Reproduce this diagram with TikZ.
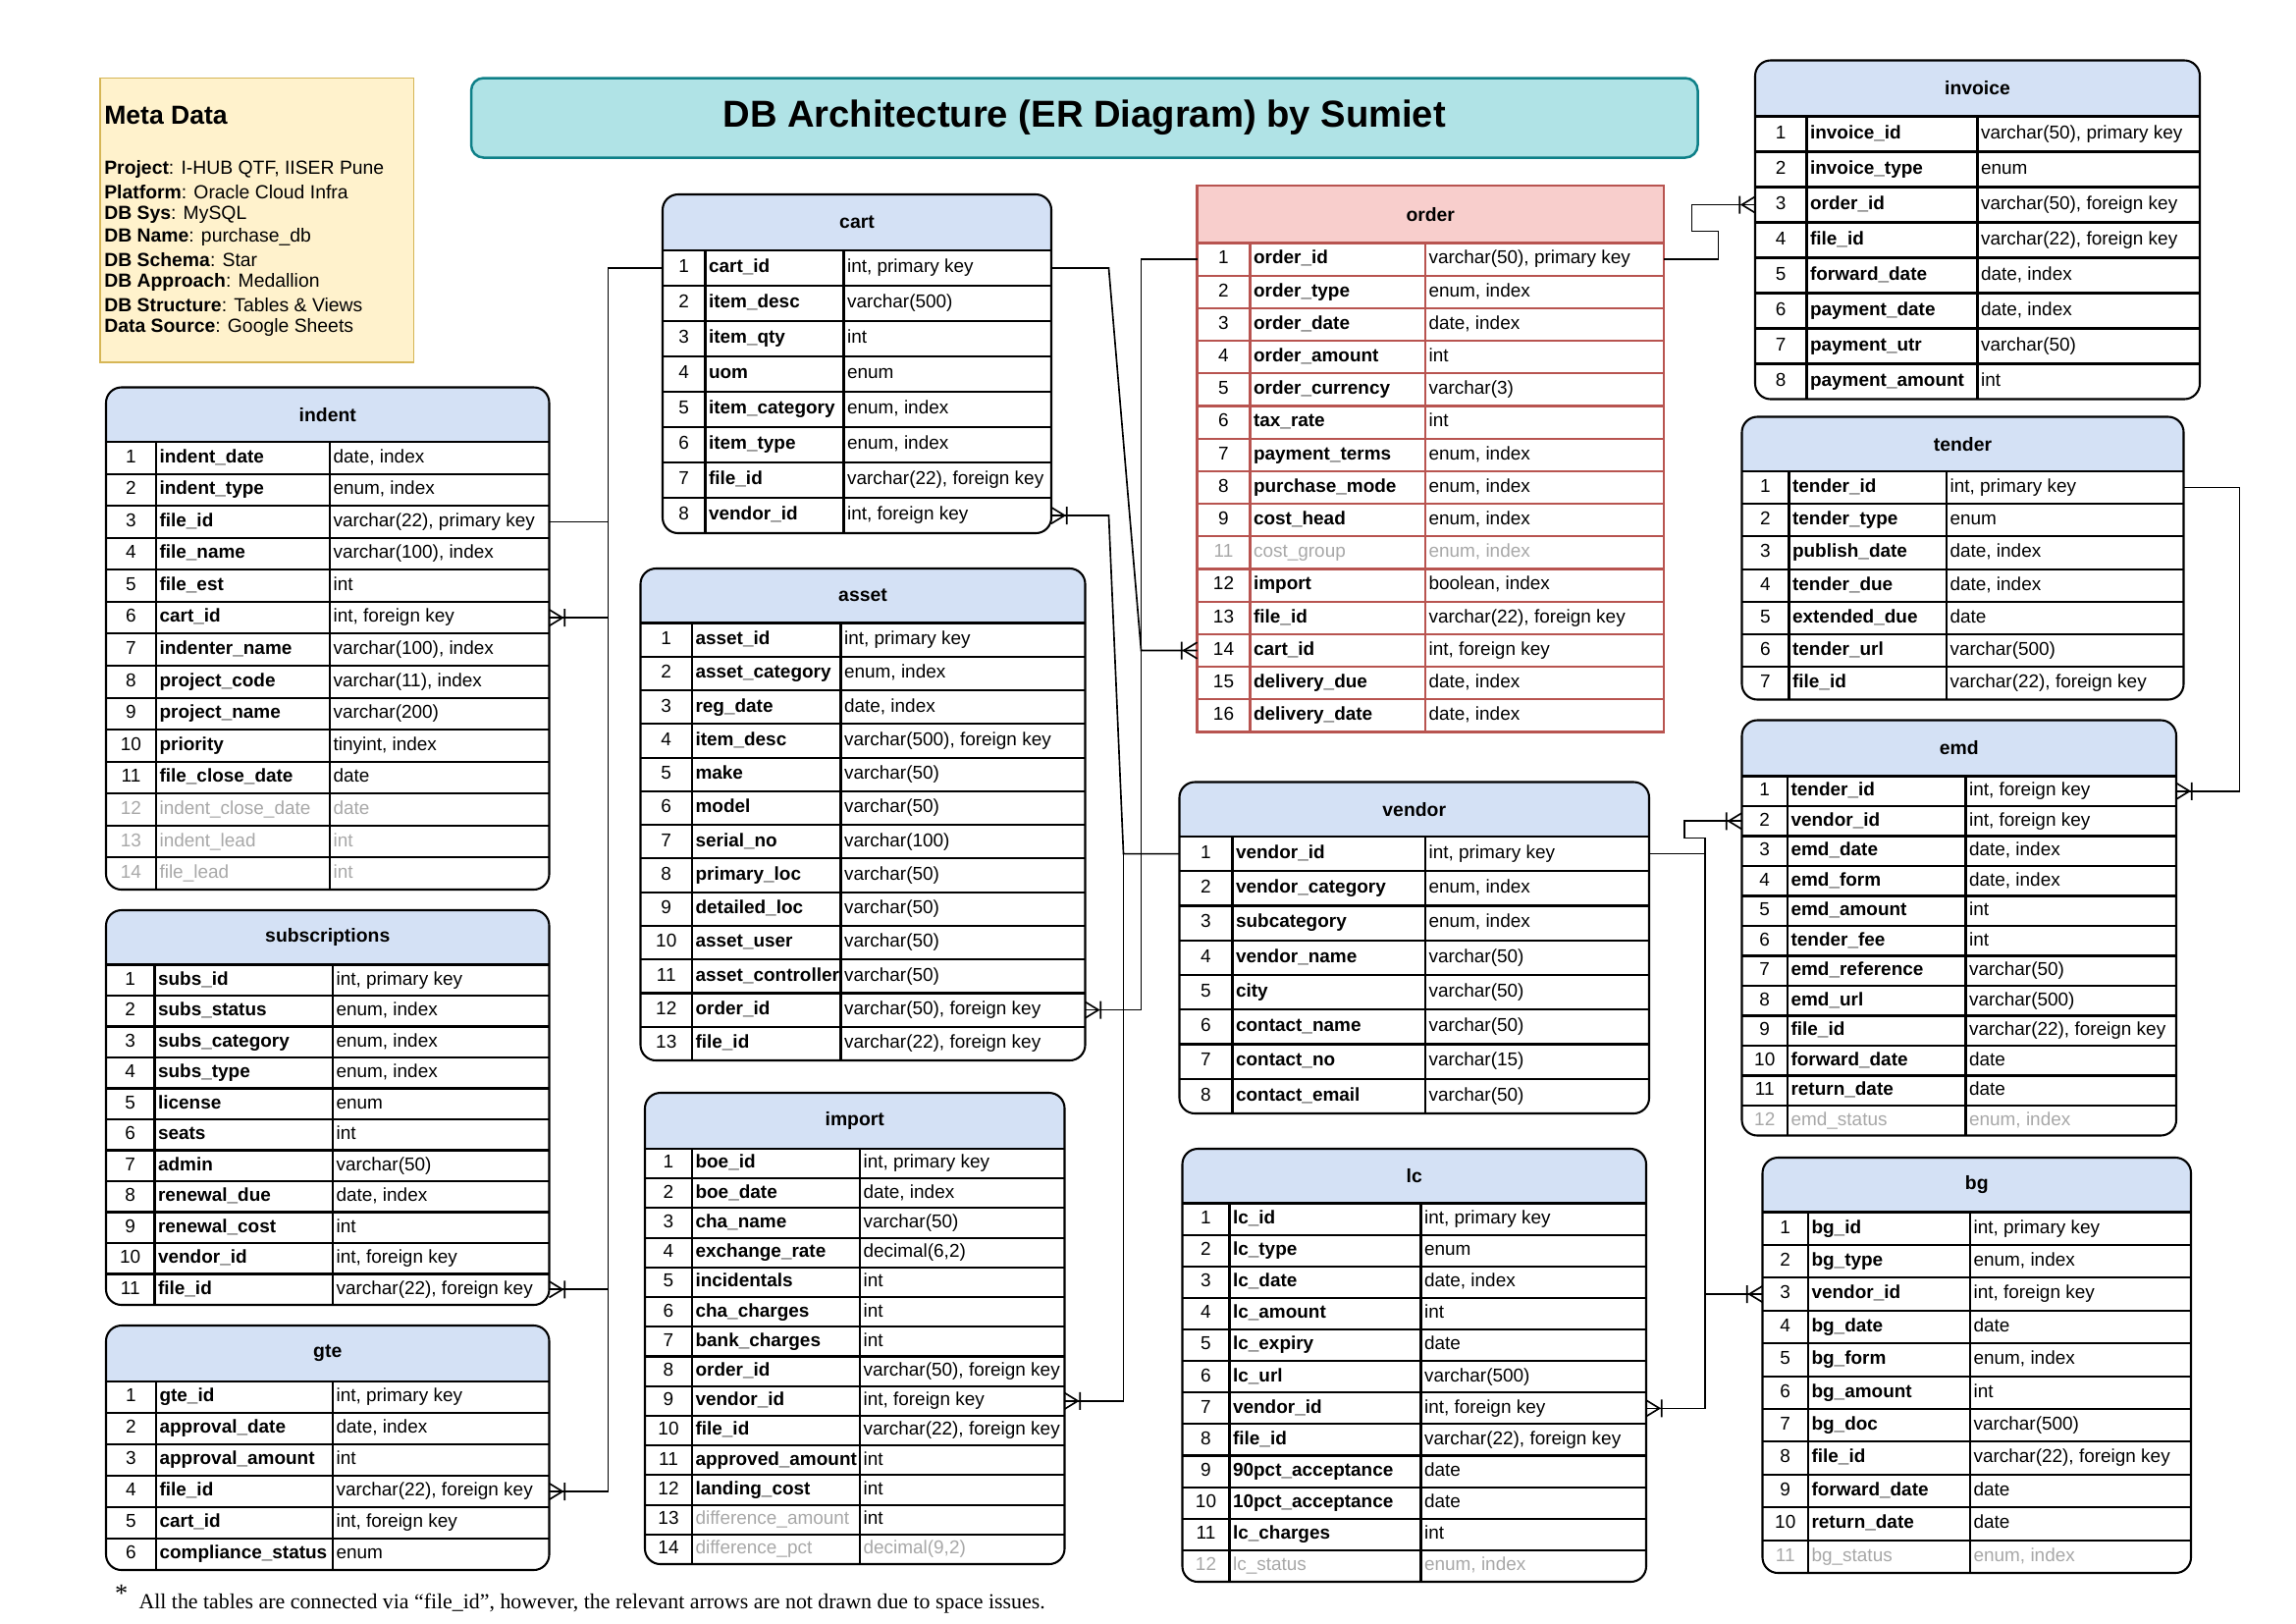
\documentclass[tikz,border=0pt]{standalone}
\usepackage{fontspec}
\setmainfont{Liberation Sans}
\newfontfamily\footserif{Liberation Serif}
\usetikzlibrary{calc}
\definecolor{hdrblue}{HTML}{D4E1F5}
\definecolor{hdrred}{HTML}{F8CECC}
\definecolor{redline}{HTML}{B85450}
\definecolor{txtgrey}{HTML}{A8A8A8}
\definecolor{titlefill}{HTML}{B0E3E6}
\definecolor{titleline}{HTML}{0E8088}
\definecolor{metafill}{HTML}{FFF2CC}
\definecolor{metaline}{HTML}{D6B656}
\newcommand{\fs}{\fontsize{6.85}{8.2}\selectfont}
\tikzset{
  tabline/.style={line width=0.75pt, draw=black},
  tablinered/.style={line width=0.75pt, draw=redline},
  conn/.style={line width=0.6pt, draw=black},
  rowbox/.style={draw=none, inner sep=0pt, outer sep=0pt},
  celltxt/.style={inner sep=0pt, text height=5pt, text depth=1.5pt, font=\fs},
  numtxt/.style={celltxt},
  nametxt/.style={celltxt, font=\fs\bfseries},
  typetxt/.style={celltxt},
  greytxt/.style={celltxt, text=txtgrey},
  titletxt/.style={inner sep=0pt, font=\fontsize{7}{8.4}\selectfont\bfseries},
  metatext/.style={anchor=west, inner sep=0pt, font=\fontsize{7}{8.4}\selectfont},
}
% table geometry: id, xl, xa, xb, xr, ytop, yhead, ybottom, nrows
\newcommand{\ertab}[9]{%
  \def\Tid{#1}\def\Txl{#2}\def\Txa{#3}\def\Txb{#4}\def\Txr{#5}%
  \def\Tyt{#6}\def\Tyh{#7}\def\Tyb{#8}\def\Tn{#9}%
  \pgfmathsetmacro\Trh{(#8-#7)/#9}%
}
\newcommand{\tabround}[1]{%
  \begin{scope}
    \clip[rounded corners=2mm] (\Txl,\Tyt) rectangle (\Txr,\Tyb);
    \fill[hdrblue] (\Txl,\Tyt) rectangle (\Txr,\Tyh);
    \fill[white] (\Txl,\Tyh) rectangle (\Txr,\Tyb);
  \end{scope}
  \draw[tabline] (\Txl,\Tyh) -- (\Txr,\Tyh) (\Txa,\Tyh) -- (\Txa,\Tyb) (\Txb,\Tyh) -- (\Txb,\Tyb);
  \draw[tabline, rounded corners=2mm] (\Txl,\Tyt) rectangle (\Txr,\Tyb);
  \node[titletxt] (\Tid-title) at ({(\Txl+\Txr)/2},{(\Tyt+\Tyh)/2}) {#1};
  \def\Tline{tabline}%
}
\newcommand{\tabsquare}[1]{%
  \fill[hdrred] (\Txl,\Tyt) rectangle (\Txr,\Tyh);
  \fill[white] (\Txl,\Tyh) rectangle (\Txr,\Tyb);
  \draw[tablinered] (\Txl,\Tyh) -- (\Txr,\Tyh) (\Txa,\Tyh) -- (\Txa,\Tyb) (\Txb,\Tyh) -- (\Txb,\Tyb);
  \draw[tablinered] (\Txl,\Tyt) rectangle (\Txr,\Tyb);
  \node[titletxt] (\Tid-title) at ({(\Txl+\Txr)/2},{(\Tyt+\Tyh)/2}) {#1};
  \def\Tline{tablinered}%
}
% row: k, label, name, type, numstyle, namestyle, typestyle
\newcommand{\erow}[7]{%
  \pgfmathsetmacro\yc{\Tyh+(#1-0.5)*\Trh}%
  \pgfmathsetmacro\yl{\Tyh+#1*\Trh}%
  \node[rowbox, minimum width={(\Txr-\Txl)*0.19047mm}, minimum height={\Trh*0.19047mm}] (\Tid-#2) at ({(\Txl+\Txr)/2},\yc) {};%
  \node[#5] (\Tid-#2-n) at ({(\Txl+\Txa)/2},\yc) {#2};%
  \node[#6, anchor=west] (\Tid-#2-a) at ({\Txa+2},\yc) {#3};%
  \node[#7, anchor=west] (\Tid-#2-b) at ({\Txb+2},\yc) {#4};%
  \ifnum#1<\Tn\relax \draw[\Tline] (\Txl,\yl) -- (\Txr,\yl);\fi
}
\newcommand{\rowN}[3]{\erow{#1}{#1}{#2}{#3}{numtxt}{nametxt}{typetxt}}
\newcommand{\rowG}[3]{\erow{#1}{#1}{#2}{#3}{greytxt}{greytxt}{greytxt}}
\newcommand{\crow}[2]{%
  \draw[conn] ($(#1)+(0,-5.5)$) -- ($(#1)+(#2*9,0)$) -- ($(#1)+(0,5.5)$)
              ($(#1)+(#2*10.5,-6)$) -- ($(#1)+(#2*10.5,6)$);}
\begin{document}
\begin{tikzpicture}[x=0.19047mm, y=-0.19047mm]
\useasboundingbox (0,0) rectangle (1559.33,1102.1);
\fill[white] (0,0) rectangle (1559.33,1102.1);

% ---------- meta data ----------
\node[draw=metaline, fill=metafill, line width=0.6pt, inner sep=0pt,
      minimum width={213*0.19047mm}, minimum height={193*0.19047mm}] (meta) at (174.5,149.5) {};
\node[anchor=west, inner sep=0pt, font=\fontsize{9.6}{11}\selectfont\bfseries] (metatitle) at (70.5,78) {Meta Data};
\node[metatext] (meta1) at (70.5,115.0) {\textbf{Project}: I-HUB QTF, IISER Pune};
\node[metatext] (meta2) at (70.5,130.3) {\textbf{Platform}: Oracle Cloud Infra};
\node[metatext] (meta3) at (70.5,145.6) {\textbf{DB Sys}: MySQL};
\node[metatext] (meta4) at (70.5,160.9) {\textbf{DB Name}: purchase\_db};
\node[metatext] (meta5) at (70.5,176.2) {\textbf{DB Schema}: Star};
\node[metatext] (meta6) at (70.5,191.5) {\textbf{DB Approach}: Medallion};
\node[metatext] (meta7) at (70.5,206.8) {\textbf{DB Structure}: Tables \& Views};
\node[metatext] (meta8) at (70.5,222.1) {\textbf{Data Source}: Google Sheets};

% ---------- title ----------
\node[draw=titleline, fill=titlefill, line width=0.9pt, rounded corners=1.6mm, inner sep=0pt,
      minimum width={833*0.19047mm}, minimum height={54*0.19047mm},
      font=\fontsize{13.8}{16}\selectfont\bfseries] (title) at (736.5,80) {DB Architecture (ER Diagram) by Sumiet};

% ---------- indent ----------
\ertab{indent}{72}{106}{224}{373}{263}{300}{604}{14}
\tabround{indent}
\rowN{1}{indent\_date}{date, index}
\rowN{2}{indent\_type}{enum, index}
\rowN{3}{file\_id}{varchar(22), primary key}
\rowN{4}{file\_name}{varchar(100), index}
\rowN{5}{file\_est}{int}
\rowN{6}{cart\_id}{int, foreign key}
\rowN{7}{indenter\_name}{varchar(100), index}
\rowN{8}{project\_code}{varchar(11), index}
\rowN{9}{project\_name}{varchar(200)}
\rowN{10}{priority}{tinyint, index}
\rowN{11}{file\_close\_date}{date}
\rowG{12}{indent\_close\_date}{date}
\rowG{13}{indent\_lead}{int}
\rowG{14}{file\_lead}{int}

% ---------- subscriptions ----------
\ertab{subs}{72}{105}{226}{373}{618}{655}{886}{11}
\tabround{subscriptions}
\rowN{1}{subs\_id}{int, primary key}
\rowN{2}{subs\_status}{enum, index}
\rowN{3}{subs\_category}{enum, index}
\rowN{4}{subs\_type}{enum, index}
\rowN{5}{license}{enum}
\rowN{6}{seats}{int}
\rowN{7}{admin}{varchar(50)}
\rowN{8}{renewal\_due}{date, index}
\rowN{9}{renewal\_cost}{int}
\rowN{10}{vendor\_id}{int, foreign key}
\rowN{11}{file\_id}{varchar(22), foreign key}

% ---------- gte ----------
\ertab{gte}{72}{106}{226}{373}{900}{938}{1066}{6}
\tabround{gte}
\rowN{1}{gte\_id}{int, primary key}
\rowN{2}{approval\_date}{date, index}
\rowN{3}{approval\_amount}{int}
\rowN{4}{file\_id}{varchar(22), foreign key}
\rowN{5}{cart\_id}{int, foreign key}
\rowN{6}{compliance\_status}{enum}

% ---------- cart ----------
\ertab{cart}{450}{479}{573}{714}{132}{170}{362}{8}
\tabround{cart}
\rowN{1}{cart\_id}{int, primary key}
\rowN{2}{item\_desc}{varchar(500)}
\rowN{3}{item\_qty}{int}
\rowN{4}{uom}{enum}
\rowN{5}{item\_category}{enum, index}
\rowN{6}{item\_type}{enum, index}
\rowN{7}{file\_id}{varchar(22), foreign key}
\rowN{8}{vendor\_id}{int, foreign key}

% ---------- asset ----------
\ertab{asset}{435}{470}{571}{737}{386}{423}{720}{13}
\tabround{asset}
\rowN{1}{asset\_id}{int, primary key}
\rowN{2}{asset\_category}{enum, index}
\rowN{3}{reg\_date}{date, index}
\rowN{4}{item\_desc}{varchar(500), foreign key}
\rowN{5}{make}{varchar(50)}
\rowN{6}{model}{varchar(50)}
\rowN{7}{serial\_no}{varchar(100)}
\rowN{8}{primary\_loc}{varchar(50)}
\rowN{9}{detailed\_loc}{varchar(50)}
\rowN{10}{asset\_user}{varchar(50)}
\rowN{11}{asset\_controller}{varchar(50)}
\rowN{12}{order\_id}{varchar(50), foreign key}
\rowN{13}{file\_id}{varchar(22), foreign key}

% ---------- import ----------
\ertab{import}{438}{470}{584}{723}{742}{780}{1062}{14}
\tabround{import}
\rowN{1}{boe\_id}{int, primary key}
\rowN{2}{boe\_date}{date, index}
\rowN{3}{cha\_name}{varchar(50)}
\rowN{4}{exchange\_rate}{decimal(6,2)}
\rowN{5}{incidentals}{int}
\rowN{6}{cha\_charges}{int}
\rowN{7}{bank\_charges}{int}
\rowN{8}{order\_id}{varchar(50), foreign key}
\rowN{9}{vendor\_id}{int, foreign key}
\rowN{10}{file\_id}{varchar(22), foreign key}
\rowN{11}{approved\_amount}{int}
\rowN{12}{landing\_cost}{int}
\erow{13}{13}{difference\_amount}{int}{numtxt}{greytxt}{typetxt}
\erow{14}{14}{difference\_pct}{decimal(9,2)}{numtxt}{greytxt}{greytxt}

% ---------- order ----------
\ertab{order}{813}{849}{968}{1130}{126}{165}{497}{15}
\tabsquare{order}
\rowN{1}{order\_id}{varchar(50), primary key}
\rowN{2}{order\_type}{enum, index}
\rowN{3}{order\_date}{date, index}
\rowN{4}{order\_amount}{int}
\rowN{5}{order\_currency}{varchar(3)}
\rowN{6}{tax\_rate}{int}
\rowN{7}{payment\_terms}{enum, index}
\rowN{8}{purchase\_mode}{enum, index}
\rowN{9}{cost\_head}{enum, index}
\erow{10}{11}{cost\_group}{enum, index}{greytxt}{greytxt}{greytxt}
\erow{11}{12}{import}{boolean, index}{numtxt}{nametxt}{typetxt}
\erow{12}{13}{file\_id}{varchar(22), foreign key}{numtxt}{nametxt}{typetxt}
\erow{13}{14}{cart\_id}{int, foreign key}{numtxt}{nametxt}{typetxt}
\erow{14}{15}{delivery\_due}{date, index}{numtxt}{nametxt}{typetxt}
\erow{15}{16}{delivery\_date}{date, index}{numtxt}{nametxt}{typetxt}

% ---------- vendor ----------
\ertab{vendor}{801}{837}{968}{1120}{531}{568}{756}{8}
\tabround{vendor}
\rowN{1}{vendor\_id}{int, primary key}
\rowN{2}{vendor\_category}{enum, index}
\rowN{3}{subcategory}{enum, index}
\rowN{4}{vendor\_name}{varchar(50)}
\rowN{5}{city}{varchar(50)}
\rowN{6}{contact\_name}{varchar(50)}
\rowN{7}{contact\_no}{varchar(15)}
\rowN{8}{contact\_email}{varchar(50)}

% ---------- lc ----------
\ertab{lc}{803}{835}{965}{1118}{780}{817}{1074}{12}
\tabround{lc}
\rowN{1}{lc\_id}{int, primary key}
\rowN{2}{lc\_type}{enum}
\rowN{3}{lc\_date}{date, index}
\rowN{4}{lc\_amount}{int}
\rowN{5}{lc\_expiry}{date}
\rowN{6}{lc\_url}{varchar(500)}
\rowN{7}{vendor\_id}{int, foreign key}
\rowN{8}{file\_id}{varchar(22), foreign key}
\rowN{9}{90pct\_acceptance}{date}
\rowN{10}{10pct\_acceptance}{date}
\rowN{11}{lc\_charges}{int}
\rowG{12}{lc\_status}{enum, index}

% ---------- invoice ----------
\ertab{invoice}{1192}{1227}{1343}{1494}{41}{79}{271}{8}
\tabround{invoice}
\rowN{1}{invoice\_id}{varchar(50), primary key}
\rowN{2}{invoice\_type}{enum}
\rowN{3}{order\_id}{varchar(50), foreign key}
\rowN{4}{file\_id}{varchar(22), foreign key}
\rowN{5}{forward\_date}{date, index}
\rowN{6}{payment\_date}{date, index}
\rowN{7}{payment\_utr}{varchar(50)}
\rowN{8}{payment\_amount}{int}

% ---------- tender ----------
\ertab{tender}{1183}{1215}{1322}{1483}{283}{320}{475}{7}
\tabround{tender}
\rowN{1}{tender\_id}{int, primary key}
\rowN{2}{tender\_type}{enum}
\rowN{3}{publish\_date}{date, index}
\rowN{4}{tender\_due}{date, index}
\rowN{5}{extended\_due}{date}
\rowN{6}{tender\_url}{varchar(500)}
\rowN{7}{file\_id}{varchar(22), foreign key}

% ---------- emd ----------
\ertab{emd}{1183}{1214}{1335}{1478}{489}{527}{771}{12}
\tabround{emd}
\rowN{1}{tender\_id}{int, foreign key}
\rowN{2}{vendor\_id}{int, foreign key}
\rowN{3}{emd\_date}{date, index}
\rowN{4}{emd\_form}{date, index}
\rowN{5}{emd\_amount}{int}
\rowN{6}{tender\_fee}{int}
\rowN{7}{emd\_reference}{varchar(50)}
\rowN{8}{emd\_url}{varchar(500)}
\rowN{9}{file\_id}{varchar(22), foreign key}
\rowN{10}{forward\_date}{date}
\rowN{11}{return\_date}{date}
\rowG{12}{emd\_status}{enum, index}

% ---------- bg ----------
\ertab{bg}{1197}{1228}{1338}{1488}{786}{823}{1068}{11}
\tabround{bg}
\rowN{1}{bg\_id}{int, primary key}
\rowN{2}{bg\_type}{enum, index}
\rowN{3}{vendor\_id}{int, foreign key}
\rowN{4}{bg\_date}{date}
\rowN{5}{bg\_form}{enum, index}
\rowN{6}{bg\_amount}{int}
\rowN{7}{bg\_doc}{varchar(500)}
\rowN{8}{file\_id}{varchar(22), foreign key}
\rowN{9}{forward\_date}{date}
\rowN{10}{return\_date}{date}
\rowG{11}{bg\_status}{enum, index}

% ---------- connectors ----------
\coordinate (busA) at (413,0);
\coordinate (busS) at (753,0);
\coordinate (busO) at (775,0);
\coordinate (busV) at (763,0);
\coordinate (busI1) at (1167,0);
\coordinate (busI2) at (1149,0);
\coordinate (jogI) at (0,157);
\coordinate (busT) at (1521,0);
\coordinate (busR) at (1158,0);
\coordinate (busE) at (1144,0);
\coordinate (jogE) at (0,569);

\draw[conn] (cart-1.west) -- (cart-1.west -| busA) -- (indent-6.east -| busA) -- (indent-6.east);
\draw[conn] (indent-3.east) -- (indent-3.east -| busA) -- (subs-11.east -| busA) -- (subs-11.east);
\draw[conn] (indent-3.east) -- (indent-3.east -| busA) -- (gte-4.east -| busA) -- (gte-4.east);
\draw[conn] (cart-1.east) -- (cart-1.east -| busS) -- (order-14.west -| busO) -- (order-14.west);
\draw[conn] (order-1.west) -- (order-1.west -| busO) -- (asset-12.east -| busO) -- (asset-12.east);
\draw[conn] (vendor-1.west) -- (vendor-1.west -| busV) -- (cart-8.east -| busS) -- (cart-8.east);
\draw[conn] (vendor-1.west) -- (vendor-1.west -| busV) -- (import-9.east -| busV) -- (import-9.east);
\draw[conn] (order-1.east) -- (order-1.east -| busI1) -- (jogI -| busI1) -- (jogI -| busI2) -- (invoice-3.west -| busI2) -- (invoice-3.west);
\draw[conn] (tender-1.east) -- (tender-1.east -| busT) -- (emd-1.east -| busT) -- (emd-1.east);
\draw[conn] (vendor-1.east) -- (vendor-1.east -| busR) -- (jogE -| busR) -- (jogE -| busE) -- (emd-2.west -| busE) -- (emd-2.west);
\draw[conn] (vendor-1.east) -- (vendor-1.east -| busR) -- (bg-3.west -| busR) -- (bg-3.west);
\draw[conn] (lc-7.east) -- (lc-7.east -| busR) -- (vendor-1.east -| busR) -- (vendor-1.east);

\crow{indent-6.east}{1}
\crow{subs-11.east}{1}
\crow{gte-4.east}{1}
\crow{order-14.west}{-1}
\crow{asset-12.east}{1}
\crow{cart-8.east}{1}
\crow{import-9.east}{1}
\crow{invoice-3.west}{-1}
\crow{emd-1.east}{1}
\crow{emd-2.west}{-1}
\crow{bg-3.west}{-1}
\crow{lc-7.east}{1}

% ---------- footnote ----------
\node[inner sep=0pt, font=\footserif\fontsize{9.5}{10}\selectfont] (star) at (82.5,1082) {*};
\node[anchor=west, inner sep=0pt, font=\footserif\fontsize{7.9}{9}\selectfont] (note) at (94,1089)
  {All the tables are connected via “file\_id”, however, the relevant arrows are not drawn due to space issues.};
\end{tikzpicture}
\end{document}
